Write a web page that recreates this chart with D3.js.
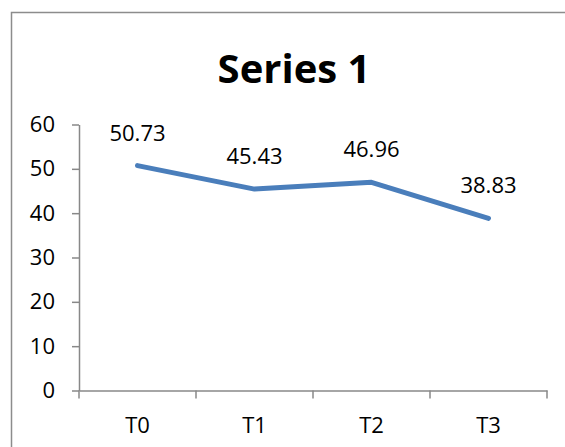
<!DOCTYPE html>
<html>
<head>
<meta charset="utf-8">
<script src="https://cdn.jsdelivr.net/npm/d3@7"></script>
<style>
  body { margin: 0; background: #fff; }
  text { font-family: "Open Sans", sans-serif; fill: #000; }
</style>
</head>
<body>
<div class="chart"></div>
<script>
// chart data
var categories = ["T0", "T1", "T2", "T3"];
var values = [50.73, 45.43, 46.96, 38.83];
var yTicks = [0, 10, 20, 30, 40, 50, 60];
var title = "Series 1";

var width = 565, height = 447;
var margin = {top: 124.5, right: 18, bottom: 56.5, left: 79};
var innerW = width - margin.left - margin.right;
var innerH = height - margin.top - margin.bottom;

var svg = d3.select(".chart")
  .append("svg")
  .attr("width", width)
  .attr("height", height);

// outer frame
svg.append("rect")
  .attr("x", 11.5).attr("y", 12.5)
  .attr("width", 600).attr("height", 500)
  .attr("fill", "none")
  .attr("stroke", "#8c8c8c")
  .attr("stroke-width", 1.5);

svg.append("text")
  .attr("x", 294).attr("y", 83)
  .attr("text-anchor", "middle")
  .style("font-size", "40px")
  .style("font-weight", "bold")
  .text(title);

var g = svg.append("g")
  .attr("transform", "translate(" + margin.left + "," + margin.top + ")");

// set the ranges
var x = d3.scaleBand().domain(categories).range([0, innerW]);
var y = d3.scaleLinear().domain([0, 60]).range([innerH, 0]);

var axisColor = "#888888";

// Y axis
var yAxis = g.append("g")
  .call(d3.axisLeft(y).tickValues(yTicks).tickSize(7).tickSizeOuter(0).tickPadding(17));
yAxis.selectAll("text").style("font-size", "22px");

// X axis - ticks on band boundaries
var xAxis = g.append("g")
  .attr("transform", "translate(0," + innerH + ")")
  .call(d3.axisBottom(x).tickSize(0).tickPadding(27));
xAxis.selectAll("text").style("font-size", "22px");
g.append("g")
  .attr("transform", "translate(0," + innerH + ")")
  .selectAll("line")
  .data(categories.map(function (c) { return x(c); }).concat([innerW]))
  .enter().append("line")
  .attr("x1", function (d) { return d; }).attr("x2", function (d) { return d; })
  .attr("y1", 0).attr("y2", 8)
  .attr("stroke", axisColor).attr("stroke-width", 1.5);

g.selectAll(".domain, .tick line")
  .attr("stroke", axisColor).attr("stroke-width", 1.5);

var valueline = d3.line()
  .x(function (d, i) { return x(categories[i]) + x.bandwidth() / 2; })
  .y(function (d) { return y(d); });

g.append("path")
  .datum(values)
  .attr("d", valueline)
  .attr("fill", "none")
  .attr("stroke", "#4a7ebb")
  .attr("stroke-width", 5)
  .attr("stroke-linecap", "round")
  .attr("stroke-linejoin", "round");

// data labels
g.selectAll(".label")
  .data(values)
  .enter().append("text")
  .attr("class", "label")
  .attr("x", function (d, i) { return x(categories[i]) + x.bandwidth() / 2; })
  .attr("y", function (d) { return y(d) - 25; })
  .attr("text-anchor", "middle")
  .style("font-size", "22px")
  .text(function (d) { return d.toFixed(2); });
</script>
</body>
</html>
